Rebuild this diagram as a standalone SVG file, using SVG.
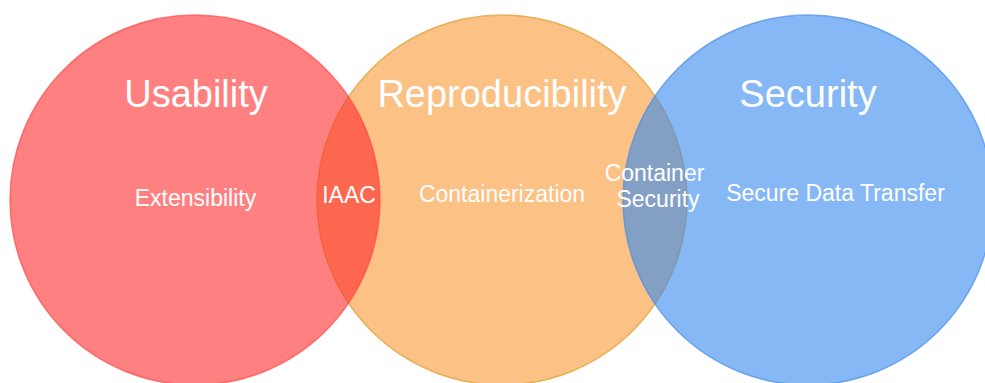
<svg xmlns="http://www.w3.org/2000/svg" width="985" height="383" viewBox="0 0 985 383">
<style>
.c{fill-opacity:0.6;stroke-width:1.5;stroke-opacity:0.7}
.t{font-family:"Liberation Sans",Arial,sans-serif;fill:#ffffff;text-anchor:middle}
.h{font-size:38px}
.s{font-size:23px}
</style>
<rect width="985" height="383" fill="#ffffff"/>
<g id="reproducibility">
<circle class="c" cx="502" cy="200" r="185" fill="#F99733" stroke="#E0A030"/>
</g>
<g id="usability">
<circle class="c" cx="195" cy="200" r="185" fill="#FF2B2B" stroke="#FF4A4A"/>
</g>
<g id="security">
<circle class="c" cx="808" cy="200" r="185" fill="#3689EE" stroke="#4A8EE8"/>
</g>
<g id="labels">
<text class="t h" x="196" y="107">Usability</text>
<text class="t h" x="502" y="107">Reproducibility</text>
<text class="t h" x="808" y="107">Security</text>
<text class="t s" x="195.5" y="206">Extensibility</text>
<text class="t s" x="349" y="202.5">IAAC</text>
<text class="t s" x="502" y="201.5">Containerization</text>
<text class="t s" x="654.5" y="181">Container</text>
<text class="t s" x="658" y="207">Security</text>
<text class="t s" x="835.5" y="200.5">Secure Data Transfer</text>
</g>
<g id="connectors"/>
</svg>
